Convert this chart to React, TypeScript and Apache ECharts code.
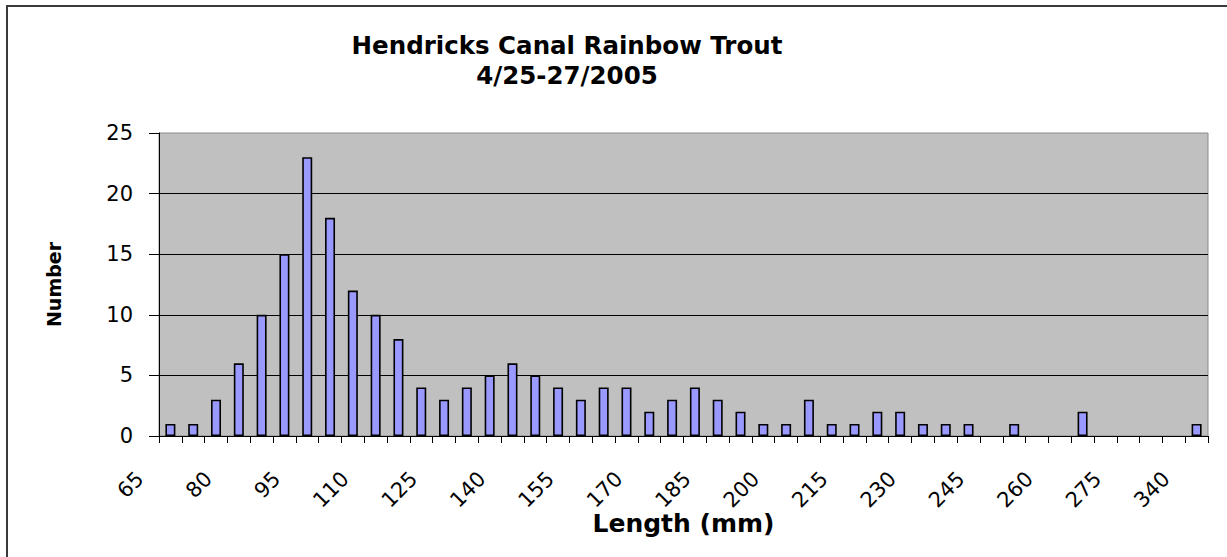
import React, { useEffect, useRef } from "react";
import * as echarts from "echarts";

const titleLine1 = "Hendricks Canal Rainbow Trout";
const titleLine2 = "4/25-27/2005";
const xAxisTitle = "Length (mm)";
const yAxisTitle = "Number";

const lengthCategories: string[] = [
  "65", "70", "75", "80", "85", "90", "95", "100", "105", "110",
  "115", "120", "125", "130", "135", "140", "145", "150", "155", "160",
  "165", "170", "175", "180", "185", "190", "195", "200", "205", "210",
  "215", "220", "225", "230", "235", "240", "245", "250", "255", "260",
  "265", "270", "275", "280", "285", "340",
];

const troutCounts: number[] = [
  1, 1, 3, 6, 10, 15, 23, 18, 12, 10,
  8, 4, 3, 4, 5, 6, 5, 4, 3, 4,
  4, 2, 3, 4, 3, 2, 1, 1, 3, 1,
  1, 2, 2, 1, 1, 1, 0, 1, 0, 0,
  2, 0, 0, 0, 0, 1,
];

const yMin = 0;
const yMax = 25;
const yInterval = 5;

export default function App() {
  const ref = useRef<HTMLDivElement>(null);

  useEffect(() => {
    if (!ref.current) return;
    const chart = echarts.init(ref.current, undefined, { renderer: "svg" });
    chart.setOption({
      animation: false,
      backgroundColor: "#ffffff",
      title: {
        text: titleLine1 + "\n" + titleLine2,
        left: 562,
        top: 25,
        textAlign: "center",
        textStyle: {
          fontFamily: "DejaVu Sans",
          fontWeight: "bold",
          fontSize: 24.5,
          lineHeight: 30,
          color: "#000",
        },
      },
      graphic: [
        {
          type: "rect",
          silent: true,
          z: 100,
          shape: { x: 7, y: 6, width: 1300, height: 700 },
          style: { fill: "none", stroke: "#3a3a3a", lineWidth: 2 },
        },
      ],
      grid: {
        left: 159,
        right: 19,
        top: 133,
        bottom: 121,
        show: true,
        backgroundColor: "#C0C0C0",
        borderColor: "#8a8a8a",
        borderWidth: 1,
      },
      xAxis: {
        type: "category",
        data: lengthCategories,
        boundaryGap: true,
        name: xAxisTitle,
        nameLocation: "middle",
        nameGap: 75,
        nameMoveOverlap: false,
        nameTextStyle: {
          fontFamily: "DejaVu Sans",
          fontWeight: "bold",
          fontSize: 25,
          color: "#000",
        },
        axisLine: { show: true, lineStyle: { color: "#000", width: 1 } },
        axisTick: {
          show: true,
          interval: 0,
          length: 7,
          lineStyle: { color: "#000", width: 1 },
        },
        axisLabel: {
          interval: 2,
          rotate: 45,
          margin: 9,
          padding: [0, 43, 0, 0],
          fontFamily: "DejaVu Sans",
          fontSize: 21,
          color: "#000",
        },
        splitLine: { show: false },
      },
      yAxis: {
        type: "value",
        min: yMin,
        max: yMax,
        interval: yInterval,
        name: yAxisTitle,
        nameLocation: "middle",
        nameGap: 96,
        nameMoveOverlap: false,
        nameRotate: 90,
        nameTextStyle: {
          fontFamily: "DejaVu Sans",
          fontWeight: "bold",
          fontSize: 19,
          color: "#000",
        },
        axisLine: { show: true, lineStyle: { color: "#000", width: 1 } },
        axisTick: { show: true, length: 10, lineStyle: { color: "#000", width: 1 } },
        axisLabel: {
          margin: 26,
          fontFamily: "DejaVu Sans",
          fontSize: 21,
          color: "#000",
        },
        splitLine: {
          show: true,
          showMaxLine: false,
          showMinLine: false,
          lineStyle: { color: "#000", width: 1 },
        },
      },
      series: [
        {
          type: "bar",
          data: troutCounts.map((v) => (v === 0 ? null : v)),
          barWidth: 10,
          itemStyle: {
            color: "#9999FF",
            borderColor: "#000",
            borderWidth: 1.6,
          },
        },
      ],
    });
    return () => chart.dispose();
  }, []);

  return (
    <div
      ref={ref}
      style={{ position: "absolute", left: 0, top: 0, width: 1227, height: 557 }}
    />
  );
}
